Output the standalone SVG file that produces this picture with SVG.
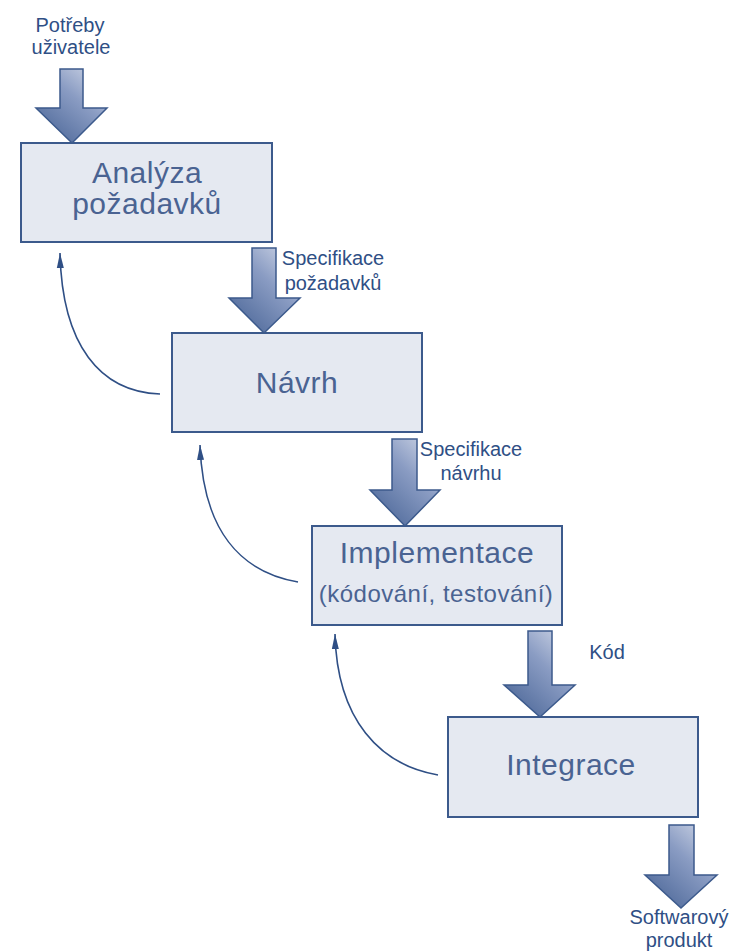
<svg xmlns="http://www.w3.org/2000/svg" width="733" height="951" viewBox="0 0 733 951">
  <defs>
    <linearGradient id="flowFill" x1="1" y1="0" x2="0.2" y2="1">
      <stop offset="0" stop-color="#d6dcea"/>
      <stop offset="0.45" stop-color="#8a9cc3"/>
      <stop offset="1" stop-color="#4d6899"/>
    </linearGradient>
    <marker id="backHead" markerUnits="userSpaceOnUse" markerWidth="16" markerHeight="10" refX="15" refY="4.5" orient="auto">
      <path d="M0,1 L15,4.5 L0,8 Z" fill="#2f4f85"/>
    </marker>
    <style>
      .box rect { fill: #e5e9f1; stroke: #3c5a8c; stroke-width: 2; }
      .box text { font-family: "Liberation Sans", Arial, sans-serif; font-size: 30px; fill: #4a6392; text-anchor: middle; letter-spacing: 0.5px; }
      .flow { fill: url(#flowFill); stroke: #3c5a8c; stroke-width: 1.5; stroke-linejoin: miter; }
      .back { fill: none; stroke: #2f4f85; stroke-width: 1.6; marker-end: url(#backHead); }
      .label { font-family: "Liberation Sans", Arial, sans-serif; font-size: 20px; fill: #2f4f85; text-anchor: middle; }
    </style>
  </defs>

  <rect width="733" height="951" fill="#ffffff"/>

  <!-- phase boxes -->
  <g id="analyza" class="box">
    <rect x="21" y="143" width="251" height="99"/>
    <text x="147" y="183">Analýza</text>
    <text x="147" y="214">požadavků</text>
  </g>
  <g id="navrh" class="box">
    <rect x="172" y="333" width="250" height="99"/>
    <text x="297" y="393">Návrh</text>
  </g>
  <g id="implementace" class="box">
    <rect x="312" y="526" width="250" height="99"/>
    <text x="437" y="563">Implementace</text>
    <text x="436" y="602" style="font-size:24px">(kódování, testování)</text>
  </g>
  <g id="integrace" class="box">
    <rect x="448" y="717" width="250" height="100"/>
    <text x="571" y="775">Integrace</text>
  </g>

  <!-- connectors: forward block arrows and feedback curves -->
  <g id="connectors">
    <polygon class="flow" points="60,69 83,69 83,108 107,108 72,143 36,108 60,108"/>
    <polygon class="flow" points="252,248 276,248 276,298 300,298 264,333 229,298 252,298"/>
    <polygon class="flow" points="392,439 417,439 417,490 440,490 405,526 370,490 392,490"/>
    <polygon class="flow" points="528,631 552,631 552,685 575,685 540,717 504,685 528,685"/>
    <polygon class="flow" points="669,825 694,825 694,875 717,875 681,908 645,875 669,875"/>

    <path class="back" d="M160,394 C100,392 62,345 60,253"/>
    <path class="back" d="M298,582 C240,572 203,530 200,445"/>
    <path class="back" d="M438,775 C380,765 337,720 335,634"/>
  </g>

  <!-- flow labels -->
  <g id="labels">
    <text class="label" x="70" y="32">Potřeby</text>
    <text class="label" x="71" y="54">uživatele</text>
    <text class="label" x="333" y="265">Specifikace</text>
    <text class="label" x="333" y="290">požadavků</text>
    <text class="label" x="471" y="456">Specifikace</text>
    <text class="label" x="471" y="480">návrhu</text>
    <text class="label" x="607" y="659">Kód</text>
    <text class="label" x="679" y="924">Softwarový</text>
    <text class="label" x="679" y="947">produkt</text>
  </g>
</svg>
